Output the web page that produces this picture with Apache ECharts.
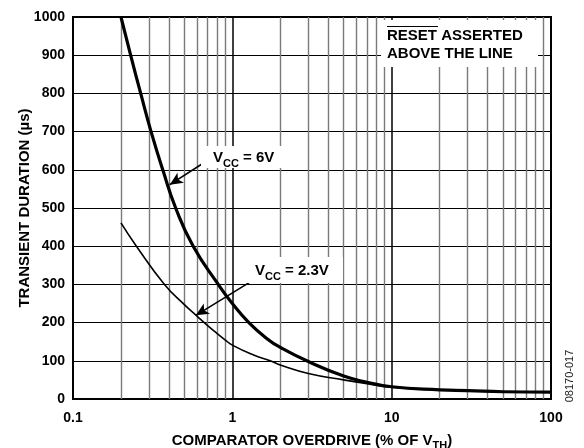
<!DOCTYPE html>
<html>
<head>
<meta charset="utf-8">
<title></title>
<script src="https://cdn.jsdelivr.net/npm/echarts@6/dist/echarts.min.js"></script>
</head>
<body style="margin:0;background:#fff">
<div id="main" style="width:584px;height:448px;"></div>
<script type="text/javascript">
// values (x = overdrive %, y = duration in us)
var minorX = [0.2, 0.3, 0.4, 0.5, 0.6, 0.7, 0.8, 0.9,
              2, 3, 4, 5, 6, 7, 8, 9,
              20, 30, 40, 50, 60, 70, 80, 90];
var vcc6 = [[0.2, 1000], [0.23, 900], [0.266, 800], [0.309, 700], [0.366, 600],
            [0.441, 500], [0.568, 400], [0.816, 300], [1, 250], [1.27, 200],
            [1.65, 158], [2, 135], [3, 98], [5, 60], [7, 44], [10, 32],
            [20, 24], [30, 22], [50, 19], [100, 18]];
var vcc23 = [[0.2, 461], [0.25, 400], [0.375, 300], [0.5, 247], [0.6, 217],
             [0.7, 192], [0.8, 172], [0.9, 155], [1, 141], [1.36, 115],
             [1.73, 100], [2, 89], [3, 67], [5, 50], [7, 40], [10, 31],
             [20, 24], [30, 22], [50, 19], [100, 18]];
var arrow6 = [[0.667, 619], [0.405, 561]];
var arrow23 = [[1.36, 312], [0.59, 219]];

var FONT = '"Liberation Sans", Arial, sans-serif';

function draw_chart() {
    var myChart = echarts.init(document.getElementById('main'), null, {renderer: 'canvas'});

    var subRich = {
        v: {fontSize: 15, fontWeight: 'bold', fontFamily: FONT, lineHeight: 22, fill: '#000'},
        s: {fontSize: 11, fontWeight: 'bold', fontFamily: FONT, lineHeight: 11, verticalAlign: 'bottom', fill: '#000'}
    };

    var option = {
        animation: false,
        backgroundColor: '#fff',
        textStyle: {fontFamily: FONT},
        grid: {
            left: 73, right: 33, top: 17, bottom: 49,
            outerBoundsMode: 'none',
            containLabel: false,
            show: true, borderColor: '#000', borderWidth: 2
        },
        xAxis: {
            type: 'log',
            logBase: 10,
            min: 0.1,
            max: 100,
            name: 'COMPARATOR OVERDRIVE (% OF V{s|TH})',
            nameLocation: 'middle',
            nameGap: 31,
            nameMoveOverlap: false,
            nameTextStyle: {
                color: '#000', fontSize: 15, fontWeight: 'bold', fontFamily: FONT, lineHeight: 21,
                rich: {
                    s: {fontSize: 11, fontWeight: 'bold', fontFamily: FONT, lineHeight: 11, verticalAlign: 'bottom', color: '#000'}
                }
            },
            axisLine: {show: true, lineStyle: {color: '#000', width: 2}},
            axisTick: {show: false},
            axisLabel: {
                color: '#000', fontSize: 14, fontWeight: 'bold', fontFamily: FONT, margin: 12,
                formatter: function (v) { return String(v); }
            },
            splitLine: {show: true, lineStyle: {color: '#000', width: 1.5}}
        },
        yAxis: {
            type: 'value',
            min: 0,
            max: 1000,
            interval: 100,
            name: 'TRANSIENT DURATION (µs)',
            nameLocation: 'middle',
            nameGap: 41,
            nameMoveOverlap: false,
            nameTextStyle: {color: '#000', fontSize: 15, fontWeight: 'bold', fontFamily: FONT},
            axisLine: {show: true, lineStyle: {color: '#000', width: 2}},
            axisTick: {show: false},
            axisLabel: {
                color: '#000', fontSize: 14, fontWeight: 'bold', fontFamily: FONT, margin: 8,
                formatter: function (v) { return String(v); }
            },
            splitLine: {show: true, lineStyle: {color: '#000', width: 1.2}}
        },
        series: [
            {
                // minor log grid lines
                type: 'line',
                data: [],
                z: 1,
                silent: true,
                markLine: {
                    silent: true,
                    symbol: 'none',
                    label: {show: false},
                    lineStyle: {color: '#7a7a7a', width: 1.4, type: 'solid'},
                    data: minorX.map(function (v) { return {xAxis: v}; })
                }
            },
            {
                name: 'VCC = 6V',
                type: 'line',
                data: vcc6,
                smooth: 0.5,
                symbol: 'none',
                z: 5,
                lineStyle: {color: '#000', width: 3.2}
            },
            {
                name: 'VCC = 2.3V',
                type: 'line',
                data: vcc23,
                smooth: 0.5,
                symbol: 'none',
                z: 5,
                lineStyle: {color: '#000', width: 1.6},
                markLine: {
                    silent: true,
                    symbol: ['none', 'arrow'],
                    symbolSize: [9, 13],
                    label: {show: false},
                    lineStyle: {color: '#000', width: 1.6, type: 'solid'},
                    data: [
                        [{coord: arrow6[0]}, {coord: arrow6[1]}],
                        [{coord: arrow23[0]}, {coord: arrow23[1]}]
                    ]
                }
            }
        ],
        graphic: [
            // RESET box
            {type: 'rect', z: 10, shape: {x: 381, y: 20, width: 157, height: 47}, style: {fill: '#fff'}},
            {type: 'text', z: 11, x: 387, y: 36, style: {text: 'RESET ASSERTED', font: 'bold 15px ' + FONT, fill: '#000', verticalAlign: 'middle'}},
            {type: 'text', z: 11, x: 387, y: 54, style: {text: 'ABOVE THE LINE', font: 'bold 15px ' + FONT, fill: '#000', verticalAlign: 'middle'}},
            {type: 'line', z: 11, shape: {x1: 387, y1: 26.5, x2: 438, y2: 26.5}, style: {stroke: '#000', lineWidth: 1.2}},
            // VCC = 6V label
            {type: 'rect', z: 10, shape: {x: 201, y: 146, width: 86, height: 22}, style: {fill: '#fff'}},
            {
                type: 'text', z: 11, x: 213, y: 158,
                style: {text: '{v|V}{s|CC}{v| = 6V}', verticalAlign: 'middle', rich: subRich}
            },
            // VCC = 2.3V label
            {type: 'rect', z: 10, shape: {x: 244, y: 257, width: 99, height: 26}, style: {fill: '#fff'}},
            {
                type: 'text', z: 11, x: 255, y: 271,
                style: {text: '{v|V}{s|CC}{v| = 2.3V}', verticalAlign: 'middle', rich: subRich}
            },
            // figure number
            {
                type: 'text', z: 11, x: 570, y: 376, rotation: Math.PI / 2,
                style: {text: '08170-017', font: '11px ' + FONT, fill: '#222', align: 'center', verticalAlign: 'middle'}
            }
        ]
    };

    myChart.setOption(option);
}
draw_chart();
</script>
</body>
</html>
